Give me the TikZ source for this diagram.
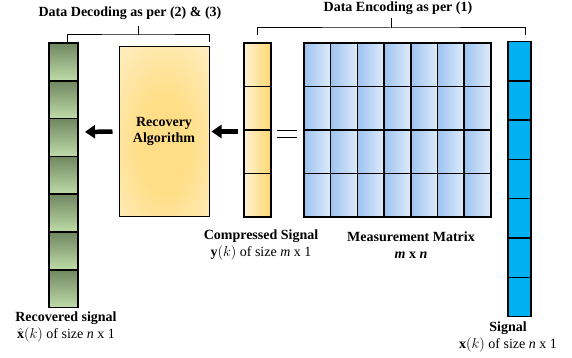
\documentclass[tikz,border=0pt]{standalone}
\usepackage{amsmath}
\usepackage{fontspec}
\setmainfont{Liberation Serif}
\usetikzlibrary{arrows.meta}
\definecolor{greendark}{RGB}{112,135,96}
\definecolor{greenlight}{RGB}{190,220,168}
\definecolor{yellowlight}{RGB}{255,242,214}
\definecolor{yellowdark}{RGB}{255,214,110}
\definecolor{matleft}{RGB}{157,195,240}
\definecolor{matright}{RGB}{222,235,250}
\definecolor{signalblue}{RGB}{0,176,240}
\definecolor{recinner}{RGB}{255,222,135}
\definecolor{recouter}{RGB}{255,246,224}
\pgfdeclareradialshading{recshade}{\pgfpoint{0bp}{-5bp}}{%
  color(0bp)=(recinner); color(14bp)=(recinner);
  color(50bp)=(recouter); color(100bp)=(recouter)}
\tikzset{
  cell/.style={draw=black, line width=1.5pt},
  greencell/.style={cell, top color=greendark, bottom color=greenlight},
  yellowcell/.style={cell, left color=yellowlight, right color=yellowdark},
  matcell/.style={cell, left color=matleft, right color=matright},
  sigcell/.style={cell, fill=signalblue},
  brace/.style={line width=1pt},
  bigarrow/.style={-{Triangle[length=10pt,width=13pt]}, line width=4.5pt},
  heading/.style={font=\bfseries\fontsize{14}{16}\selectfont},
  caption/.style={font=\fontsize{14}{17}\selectfont, align=center, inner sep=0pt},
}
\begin{document}
\begin{tikzpicture}[x=1pt,y=-1pt]
  \useasboundingbox (0,0) rectangle (572,358);
  % recovered signal (green)
  \foreach \i in {0,...,6}
    \draw[greencell] (49,{43+\i*37.8}) rectangle (78,{43+(\i+1)*37.8});
  \coordinate (green) at (78,132);
  % recovery block
  \node[draw=black, line width=1pt, minimum width=90pt, minimum height=169pt,
        shading=recshade, align=center,
        font=\bfseries\fontsize{14}{15.5}\selectfont] (rec) at (164,131.5)
        {Recovery\\Algorithm};
  % compressed signal (yellow)
  \foreach \i in {0,...,3}
    \draw[yellowcell] (244,{43+\i*43.5}) rectangle (271,{43+(\i+1)*43.5});
  \coordinate (yellow) at (244,131.5);
  % equals sign
  \draw[line width=1.2pt] (277,130.5) -- (297,130.5);
  \draw[line width=1.2pt] (277,137.5) -- (297,137.5);
  % measurement matrix
  \foreach \i in {0,...,6}
    \foreach \j in {0,...,3}
      \draw[matcell] ({304+\i*26.7},{43+\j*43.5}) rectangle ({304+(\i+1)*26.7},{43+(\j+1)*43.5});
  % signal (blue)
  \foreach \i in {0,...,6}
    \draw[sigcell] (508,{41.5+\i*39.3}) rectangle (531,{41.5+(\i+1)*39.3});
  % arrows
  \draw[bigarrow, shorten <=6pt, shorten >=7pt] (rec.west) -- (green);
  \draw[bigarrow, shorten <=6pt, shorten >=2pt] (yellow) -- (rec.east);
  % braces and headings
  \node[heading] (dec) at (130,13) {Data Decoding as per (2) \& (3)};
  \node[heading] (enc) at (398,8) {Data Encoding as per (1)};
  \coordinate (decmid) at (138,35);
  \coordinate (encmid) at (391,28);
  \draw[brace] (67,42) |- (decmid) -| (209,42);
  \draw[brace] (decmid) -- (138,26);
  \draw[brace] (257,35) |- (encmid) -| (525,35);
  \draw[brace] (encmid) -- (391,18);
  % captions
  \node[caption] (reccap) at (66,327)
    {\textbf{Recovered signal}\\$\hat{\mathbf{x}}(k)$ of size \textit{n} x 1};
  \node[caption] (ycap) at (261,245)
    {\textbf{Compressed Signal}\\$\mathbf{y}(k)$ of size \textit{m} x 1};
  \node[caption] (acap) at (411,245)
    {\textbf{Measurement Matrix}\\\textbf{\textit{m} x \textit{n}}};
  \node[caption] (xcap) at (508,337)
    {\textbf{Signal}\\$\mathbf{x}(k)$ of size \textit{n} x 1};
\end{tikzpicture}
\end{document}
